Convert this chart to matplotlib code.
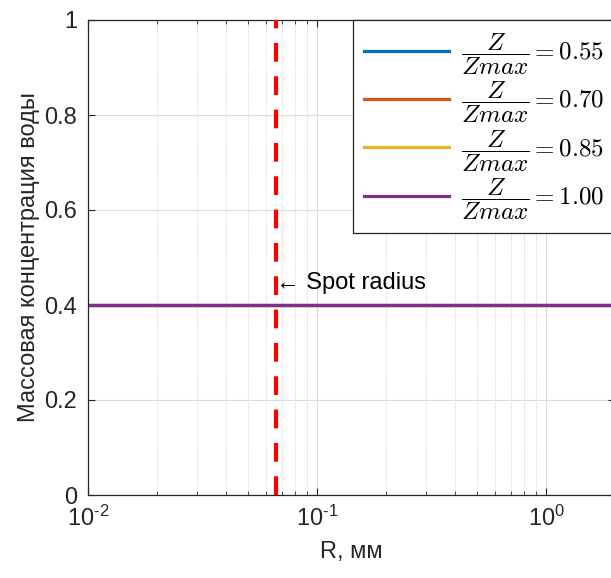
import math

import matplotlib as mpl
mpl.use("Agg")
import matplotlib.pyplot as plt
from matplotlib.ticker import FixedLocator, FuncFormatter, LogLocator, NullFormatter

# data
z_ratio = [0.55, 0.70, 0.85, 1.00]
r_line = [0.01, 2.0]
water_conc = [0.4, 0.4]
spot_radius = 0.066
colors = ["#0072BD", "#D95319", "#EDB120", "#7E2F8E"]

mpl.rcParams.update(
    {
        "font.family": ["Liberation Sans", "DejaVu Sans"],
        "mathtext.fontset": "custom",
        "mathtext.rm": "Liberation Sans",
        "mathtext.it": "Liberation Sans:italic",
        "font.size": 16,
        "text.color": "#262626",
        "axes.labelcolor": "#262626",
        "xtick.color": "#262626",
        "ytick.color": "#262626",
    }
)

W, H = 611, 578
fig = plt.figure(figsize=(W / 100, H / 100), dpi=100)
left, right, top, bottom = 88, 615, 20, 495
ax = fig.add_axes([left / W, 1 - bottom / H, (right - left) / W, (bottom - top) / H])

for zr, c in zip(z_ratio, colors):
    ax.plot(r_line, water_conc, color=c, linewidth=2.3,
            label=r"$\dfrac{Z}{Zmax} = %.2f$" % zr)

ax.axvline(spot_radius, color="#FF0000", linewidth=3, linestyle=(0, (4.5, 3.5)), zorder=3)
ax.text(spot_radius * 1.005, 0.446, "\u2190 Spot radius", va="center", ha="left",
        fontsize=17, color="black")

ax.set_xscale("log")
ax.set_xlim(0.01, 2.0)
ax.set_ylim(0, 1)
ax.set_yticks([0, 0.2, 0.4, 0.6, 0.8, 1.0])
ax.yaxis.set_major_formatter(FuncFormatter(lambda v, p: "%g" % v))
ax.xaxis.set_major_locator(FixedLocator([0.01, 0.1, 1.0]))
ax.xaxis.set_major_formatter(FuncFormatter(
    lambda v, p: r"$\mathregular{10^{\text{%d}}}$" % round(math.log10(v))))
ax.xaxis.set_minor_locator(LogLocator(base=10, subs=range(2, 10)))
ax.xaxis.set_minor_formatter(NullFormatter())

ax.grid(True, which="major", color="#dcdcdc", linewidth=0.8, linestyle="-")
ax.grid(True, which="minor", axis="x", color="#c8c8c8", linewidth=0.7, linestyle=":")
ax.set_axisbelow(True)
ax.tick_params(which="both", direction="in", top=True, right=True, labelsize=17, pad=8)
ax.tick_params(which="major", length=5)
ax.tick_params(which="minor", length=3)
for s in ax.spines.values():
    s.set_color("#262626")
    s.set_linewidth(0.9)

ax.set_xlabel("R, мм", fontsize=17, labelpad=7)
ax.set_ylabel("Массовая концентрация воды", fontsize=17, labelpad=3)

leg = ax.legend(loc="upper right", bbox_to_anchor=(right / W, 1 - top / H),
                bbox_transform=fig.transFigure, fontsize=18, handlelength=3.4,
                labelspacing=0.1, borderaxespad=0, fancybox=False,
                edgecolor="#262626", framealpha=1, borderpad=0.45, handletextpad=0.45)
leg.get_frame().set_linewidth(0.9)
for t in leg.get_texts():
    t.set_math_fontfamily("cm")
    t.set_color("black")
for ln in leg.get_lines():
    ln.set_linewidth(2.3)

fig.savefig("out.png", dpi=100)
